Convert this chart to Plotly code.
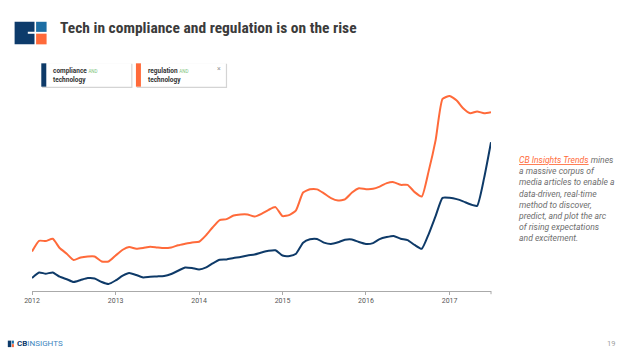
import pandas as pd
import plotly.graph_objects as go

# ---- data (index of media mentions) ----
months = pd.date_range("2012-01-01", "2017-07-01", freq="MS")
compliance_technology = [
    13.0, 18.6, 17.3, 18.6, 14.3, 11.8, 9.0, 11.0, 13.0, 12.6, 9.0, 7.0,
    10.6, 15.3, 18.0, 16.0, 13.6, 14.3, 14.6, 15.0, 17.0, 20.3, 23.6, 23.0,
    21.6, 23.6, 27.6, 31.3, 31.6, 33.0, 34.0, 35.6, 36.6, 38.6, 40.3, 40.8,
    35.5, 35.0, 37.3, 48.3, 51.8, 52.1, 48.5, 47.1, 48.8, 51.3, 51.6, 49.0,
    47.1, 48.0, 52.0, 54.0, 55.1, 52.3, 51.0, 46.1, 42.3, 56.8, 75.3, 93.3,
    93.3, 92.0, 89.8, 86.8, 85.3, 113.3, 149.0,
]
regulation_technology = [
    39.6, 50.3, 50.0, 52.3, 43.0, 37.3, 31.0, 33.6, 34.6, 34.6, 29.6, 29.6,
    35.6, 41.3, 44.0, 42.3, 43.0, 44.3, 43.6, 43.0, 43.6, 45.8, 47.3, 48.6,
    49.3, 56.0, 63.6, 71.0, 72.0, 75.6, 76.6, 76.6, 74.6, 77.3, 81.3, 84.0,
    75.0, 76.3, 80.8, 98.6, 101.8, 101.8, 97.8, 93.0, 90.6, 91.8, 98.6, 102.8,
    102.0, 102.3, 104.6, 108.0, 109.0, 106.3, 106.3, 99.0, 94.6, 119.8, 151.3, 192.3,
    195.3, 190.8, 183.0, 178.0, 179.8, 178.0, 179.0,
]
tick_vals = ["2012-01-01", "2013-01-01", "2014-01-01", "2015-01-01", "2016-01-01", "2017-01-01"]
tick_text = ["2012", "2013", "2014", "2015", "2016", "2017"]
series_names = ["compliance", "regulation"]

NAVY = "#0e3a68"
ORANGE = "#ff6a3a"

# ---- layout geometry (pixels) ----
WIDTH, HEIGHT = 624, 351
L, R, T, B = 31.7, 491.0, 80.0, 291.3
PW, PH = R - L, B - T


def px(x):
    return (x - L) / PW


def py(y):
    return (B - y) / PH


fig = go.Figure()
fig.add_trace(go.Scatter(x=months, y=regulation_technology, mode="lines",
                         line=dict(color=ORANGE, width=2, shape="spline", smoothing=0.5),
                         name="regulation AND technology", hoverinfo="skip"))
fig.add_trace(go.Scatter(x=months, y=compliance_technology, mode="lines",
                         line=dict(color=NAVY, width=2, shape="spline", smoothing=0.5),
                         name="compliance AND technology", hoverinfo="skip"))

shapes = []
ann = []


def rect(x0, y0, x1, y1, color, line=None):
    shapes.append(dict(type="rect", xref="paper", yref="paper",
                       x0=px(x0), x1=px(x1), y0=py(y1), y1=py(y0),
                       fillcolor=color, line=dict(width=0) if line is None else line,
                       layer="above"))


def text(x, y, s, size, color, xanchor="left", yanchor="middle", family="Roboto",
         align="left", style="normal"):
    ann.append(dict(xref="paper", yref="paper", x=px(x), y=py(y), text=s,
                    showarrow=False, xanchor=xanchor, yanchor=yanchor, align=align,
                    font=dict(size=size, color=color, family=family, style=style)))


# ---- header logo ----
shapes.append(dict(type="path", xref="paper", yref="paper", layer="above",
                   path=("M {a},{b} L {c},{b} L {c},{d} L {e},{d} L {e},{f} L {c},{f} L {c},{g} L {a},{g} Z").format(
                       a=px(14.3), b=py(21.7), c=px(34.2), d=py(31.8), e=px(27.5), f=py(33.6), g=py(44.3)),
                   fillcolor="#0d3b6b", line=dict(width=0)))
rect(35.8, 21.7, 46.3, 31.8, "#1c6ea4")
rect(35.8, 33.6, 46.3, 44.3, "#ff6a3a")

text(57.5, 27.5, "<b>Tech in compliance and regulation is on the rise</b>", 15.5, "#3b3b3b",
     family="Liberation Sans Narrow, Roboto Condensed, Roboto")

# ---- legend cards ----
cards = [(41, 131, NAVY, series_names[0]), (135.7, 225.7, ORANGE, series_names[1])]
for x0, x1, col, word in cards:
    rect(x0 + 0.8, 63.8, x1 + 1.2, 88.0, "#d4d4d4")
    rect(x0, 63.3, x1, 86.7, "#ffffff")
    rect(x0, 63.3, x0 + 5, 86.7, col)
    text(x0 + 10, 70.5, "<b>" + word + "</b> <span style='font-size:4.5px;color:#7dc47d'>AND</span>",
         6.5, "#333333")
    text(x0 + 10, 79.5, "<b>technology</b>", 6.5, "#333333")
text(219, 68.5, "×", 7, "#999999", xanchor="center")

# ---- x axis extras: end tick ----
shapes.append(dict(type="line", xref="paper", yref="paper", x0=px(491), x1=px(491),
                   y0=py(291.3), y1=py(294.5), line=dict(color="#aaaaaa", width=1)))

# ---- right side commentary ----
desc = ("<span style='color:#ff6a3a;text-decoration:underline'>CB Insights Trends</span> mines<br>"
        "a massive corpus of<br>"
        "media articles to enable a<br>"
        "data-driven, real-time<br>"
        "method to discover,<br>"
        "predict, and plot the arc<br>"
        "of rising expectations<br>"
        "and excitement.")
text(516.5, 153.5, desc, 8.6, "#6e6e6e", yanchor="top", style="italic")

# ---- footer ----
rect(7.5, 341.0, 11.0, 347.5, "#0d3b6b")
rect(11.6, 341.0, 13.6, 344.0, "#1c6ea4")
rect(11.6, 344.5, 13.6, 347.5, "#ff6a3a")
text(14.5, 344.3, "<b>CB</b><span style='color:#3d85c0'>INSIGHTS</span>", 8, "#0d3b6b")
text(611, 344.3, "19", 7.5, "#a0a0a0", xanchor="center")

fig.update_layout(
    width=WIDTH, height=HEIGHT,
    margin=dict(l=L, r=WIDTH - R, t=T, b=HEIGHT - B, pad=0),
    paper_bgcolor="#ffffff", plot_bgcolor="#ffffff",
    showlegend=False,
    shapes=shapes, annotations=ann,
    xaxis=dict(range=[months[0], months[-1]], tickvals=tick_vals, ticktext=tick_text,
               showgrid=False, zeroline=False, showline=True, linecolor="#aaaaaa", linewidth=1,
               ticks="outside", ticklen=3, tickcolor="#aaaaaa",
               tickfont=dict(size=7, color="#555555", family="Roboto")),
    yaxis=dict(range=[0, PH], visible=False, fixedrange=True),
)

fig.write_html("out.html")
